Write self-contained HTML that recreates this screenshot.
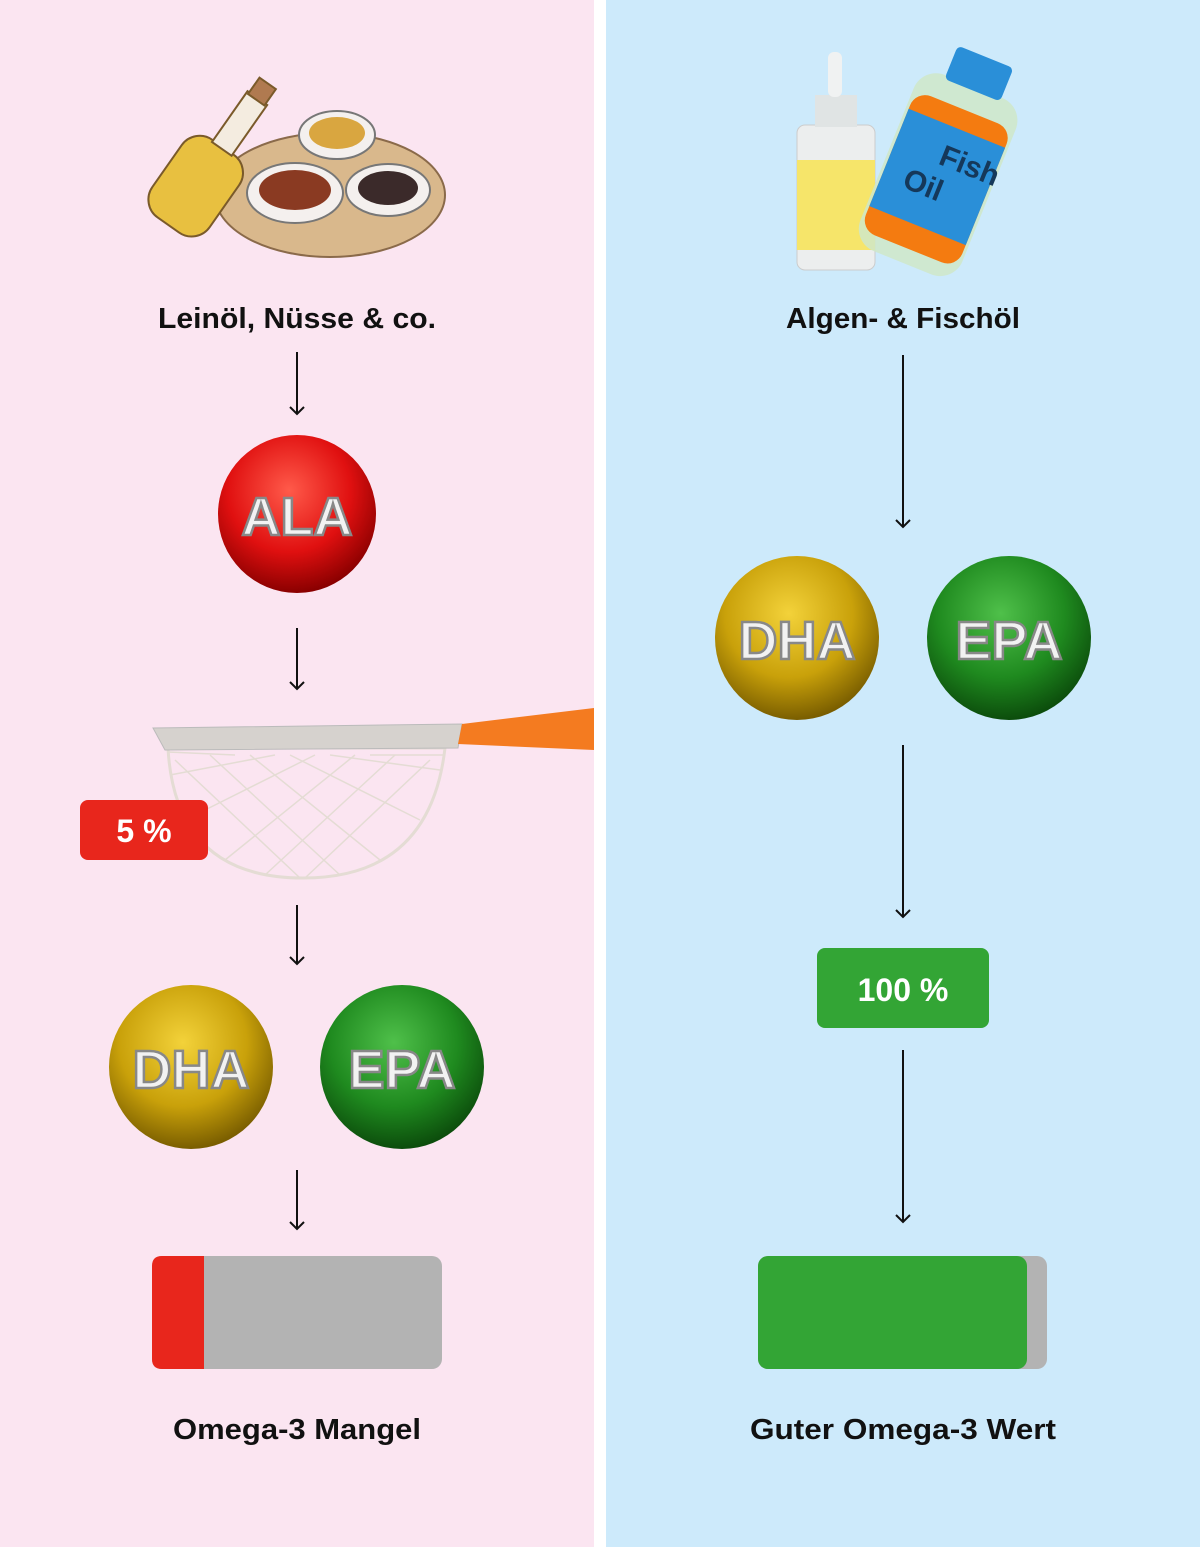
<!DOCTYPE html>
<html><head><meta charset="utf-8"><style>
html,body{margin:0;padding:0}
body{width:1200px;height:1547px;overflow:hidden;font-family:"Liberation Sans",sans-serif}
</style></head><body>
<svg width="1200" height="1547" viewBox="0 0 1200 1547" xmlns="http://www.w3.org/2000/svg">
<defs>
<radialGradient id="red" cx="45%" cy="35%" r="65%"><stop offset="0" stop-color="#ff5a4a"/><stop offset="0.6" stop-color="#e01010"/><stop offset="1" stop-color="#8a0000"/></radialGradient>
<radialGradient id="gold" cx="45%" cy="35%" r="65%"><stop offset="0" stop-color="#f3d23a"/><stop offset="0.6" stop-color="#c9a10a"/><stop offset="1" stop-color="#7a5e00"/></radialGradient>
<radialGradient id="green" cx="45%" cy="35%" r="65%"><stop offset="0" stop-color="#4fc04a"/><stop offset="0.6" stop-color="#1f8a1f"/><stop offset="1" stop-color="#0c4d0c"/></radialGradient>
</defs>
<rect x="0" y="0" width="594" height="1547" fill="#fbe5f1"/>
<rect x="594" y="0" width="12" height="1547" fill="#fff"/>
<rect x="606" y="0" width="594" height="1547" fill="#cdeafb"/>

<!-- left illustration -->
<ellipse cx="330" cy="195" rx="115" ry="62" fill="#d9b88c" stroke="#8a6a4a" stroke-width="2"/>
<ellipse cx="295" cy="193" rx="48" ry="30" fill="#f4f0ee" stroke="#777" stroke-width="2"/>
<ellipse cx="295" cy="190" rx="36" ry="20" fill="#8a3a22"/>
<ellipse cx="337" cy="135" rx="38" ry="24" fill="#f4f0ee" stroke="#777" stroke-width="2"/>
<ellipse cx="337" cy="133" rx="28" ry="16" fill="#d9a640"/>
<ellipse cx="388" cy="190" rx="42" ry="26" fill="#f4f0ee" stroke="#777" stroke-width="2"/>
<ellipse cx="388" cy="188" rx="30" ry="17" fill="#3b2a2a"/>
<g transform="rotate(35 200 180)">
<rect x="165" y="140" width="70" height="95" rx="22" fill="#e8c040" stroke="#7a5a2a" stroke-width="2"/>
<rect x="188" y="80" width="24" height="62" fill="#f4ece0" stroke="#7a5a2a" stroke-width="2"/>
<rect x="190" y="62" width="20" height="20" fill="#b07a50" stroke="#7a5a2a" stroke-width="2"/>
</g>

<!-- right illustration -->
<rect x="797" y="125" width="78" height="145" rx="8" fill="#eceeee" stroke="#ccc"/>
<rect x="797" y="160" width="78" height="90" fill="#f6e56a"/>
<rect x="815" y="95" width="42" height="32" fill="#e0e4e4"/>
<rect x="828" y="52" width="14" height="45" rx="6" fill="#f0f2f2"/>
<g transform="rotate(22 940 170)">
<rect x="885" y="80" width="110" height="190" rx="24" fill="#cfe8c8" opacity="0.85"/>
<rect x="888" y="105" width="104" height="150" rx="16" fill="#f47b10"/>
<rect x="888" y="125" width="104" height="105" fill="#2a8fd8"/>
<rect x="910" y="48" width="60" height="36" rx="5" fill="#2a8fd8"/>
<text x="935" y="165" font-family="Liberation Sans" font-weight="bold" font-size="30" fill="#15385a">Fish</text>
<text x="910" y="200" font-family="Liberation Sans" font-weight="bold" font-size="30" fill="#15385a">Oil</text>
</g>

<g font-family="Liberation Sans, sans-serif" font-weight="bold" font-size="29" fill="#111" text-anchor="middle">
<text x="297" y="328" textLength="278" lengthAdjust="spacingAndGlyphs">Leinöl, Nüsse &amp; co.</text>
<text x="903" y="328" textLength="234" lengthAdjust="spacingAndGlyphs">Algen- &amp; Fischöl</text>
<text x="297" y="1439" textLength="248" lengthAdjust="spacingAndGlyphs">Omega-3 Mangel</text>
<text x="903" y="1439" textLength="306" lengthAdjust="spacingAndGlyphs">Guter Omega-3 Wert</text>
</g>

<g stroke="#111" stroke-width="2" fill="none">
<line x1="297" y1="352" x2="297" y2="414"/><polyline points="290,407 297,414 304,407"/>
<line x1="297" y1="628" x2="297" y2="689"/><polyline points="290,682 297,689 304,682"/>
<line x1="297" y1="905" x2="297" y2="964"/><polyline points="290,957 297,964 304,957"/>
<line x1="297" y1="1170" x2="297" y2="1229"/><polyline points="290,1222 297,1229 304,1222"/>
<line x1="903" y1="355" x2="903" y2="527"/><polyline points="896,520 903,527 910,520"/>
<line x1="903" y1="745" x2="903" y2="917"/><polyline points="896,910 903,917 910,910"/>
<line x1="903" y1="1050" x2="903" y2="1222"/><polyline points="896,1215 903,1222 910,1215"/>
</g>

<!-- balls -->
<g font-family="Liberation Sans, sans-serif" font-weight="bold" text-anchor="middle" fill="#f2f2f2" stroke="#888" stroke-width="2.5">
<circle cx="297" cy="514" r="79" fill="url(#red)" stroke="none"/>
<text x="297" y="535" font-size="54">ALA</text>
<circle cx="191" cy="1067" r="82" fill="url(#gold)" stroke="none"/>
<text x="191" y="1088" font-size="54">DHA</text>
<circle cx="402" cy="1067" r="82" fill="url(#green)" stroke="none"/>
<text x="402" y="1088" font-size="54">EPA</text>
<circle cx="797" cy="638" r="82" fill="url(#gold)" stroke="none"/>
<text x="797" y="659" font-size="54">DHA</text>
<circle cx="1009" cy="638" r="82" fill="url(#green)" stroke="none"/>
<text x="1009" y="659" font-size="54">EPA</text>
</g>

<!-- sieve -->
<path d="M168,748 Q175,878 303,878 Q430,878 445,748 Z" fill="none" stroke="#e4dcd4" stroke-width="3"/>
<g stroke="#e4dcd4" stroke-width="1.5" fill="none">
<path d="M175,760 L300,878 M210,755 L340,875 M250,755 L380,860 M290,755 L420,820 M330,755 L440,770 M370,755 L445,755"/>
<path d="M430,760 L305,878 M395,755 L265,875 M355,755 L225,860 M315,755 L185,820 M275,755 L170,775 M235,755 L168,752"/>
</g>
<path d="M153,728 L462,724 L458,748 L165,750 Z" fill="#d6d2ce" stroke="#bbb"/>
<path d="M462,724 L594,708 L594,750 L458,744 Z" fill="#f47b20"/>

<!-- badges -->
<rect x="80" y="800" width="128" height="60" rx="8" fill="#e8261c"/>
<text x="144" y="842" font-family="Liberation Sans" font-weight="bold" font-size="32" fill="#fff" text-anchor="middle">5 %</text>
<rect x="817" y="948" width="172" height="80" rx="8" fill="#33a535"/>
<text x="903" y="1001" font-family="Liberation Sans" font-weight="bold" font-size="32" fill="#fff" text-anchor="middle">100 %</text>

<!-- bars -->
<rect x="152" y="1256" width="290" height="113" rx="10" fill="#b3b3b3"/>
<path d="M162,1256 L204,1256 L204,1369 L162,1369 Q152,1369 152,1359 L152,1266 Q152,1256 162,1256 Z" fill="#e8261c"/>
<rect x="758" y="1256" width="289" height="113" rx="10" fill="#b3b3b3"/>
<rect x="758" y="1256" width="269" height="113" rx="10" fill="#33a535"/>
</svg>
</body></html>
